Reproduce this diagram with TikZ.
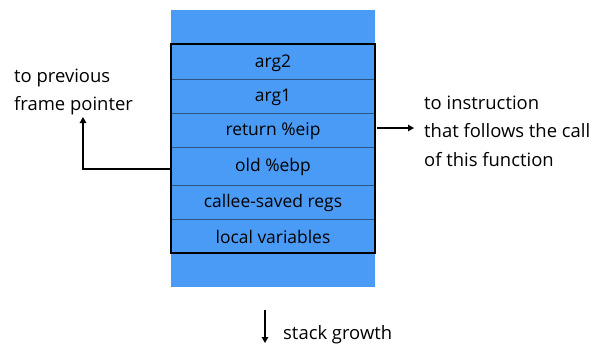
\documentclass[tikz,border=0pt]{standalone}
\usepackage{fontspec}
\setmainfont{Open Sans}
\usetikzlibrary{arrows.meta}
\definecolor{stackblue}{RGB}{74,155,245}
\definecolor{divline}{RGB}{45,85,130}
\begin{document}
\begin{tikzpicture}[x=1bp,y=-1bp,
  rowlbl/.style={font=\fontsize{17.5}{20}\selectfont, text=black},
  outlbl/.style={font=\fontsize{18.5}{21}\selectfont, text=black, anchor=west, inner sep=0pt},
  conn/.style={line width=1.4bp, -{Triangle[length=6bp,width=6.5bp]}},
  divider/.style={draw=divline, line width=0.8bp}]
\useasboundingbox (0,0) rectangle (598,345);
% column
\fill[stackblue] (171,10) rectangle (375,287);
\draw[divider] (171,79) -- (375,79);
\draw[divider] (171,113) -- (375,113);
\draw[divider] (171,147) -- (375,147);
\draw[divider] (171,185) -- (375,185);
\draw[divider] (171,219) -- (375,219);
\draw[line width=1.6bp] (171,44) rectangle (375,253);
% row labels
\node[rowlbl] (arg2) at (273,63) {arg2};
\node[rowlbl] (arg1) at (273,97) {arg1};
\node[rowlbl] (reip) at (273,131) {return \%eip};
\node[rowlbl] (oebp) at (273,167) {old \%ebp};
\node[rowlbl] (csr) at (273,203) {callee-saved regs};
\node[rowlbl] (lv) at (273,237) {local variables};
% row anchors
\coordinate (oebpL) at (171,169);
\coordinate (reipR) at (377,128);
% left text
\node[outlbl] (prev1) at (14,78) {to previous};
\node[outlbl] (prev2) at (14,106) {frame pointer};
\coordinate (prevtip) at (83,117);
\draw[conn] (oebpL) -- (83,169) -- (prevtip);
% right text
\node[outlbl] (ins1) at (424,103) {to instruction};
\node[outlbl] (ins2) at (424,131) {that follows the call};
\node[outlbl] (ins3) at (424,160) {of this function};
\coordinate (instip) at (414,128);
\draw[conn] (reipR) -- (instip);
% stack growth
\coordinate (sgtop) at (265,310);
\coordinate (sgbot) at (265,343);
\draw[conn] (sgtop) -- (sgbot);
\node[outlbl] (sg) at (283,335) {stack growth};
\end{tikzpicture}
\end{document}
